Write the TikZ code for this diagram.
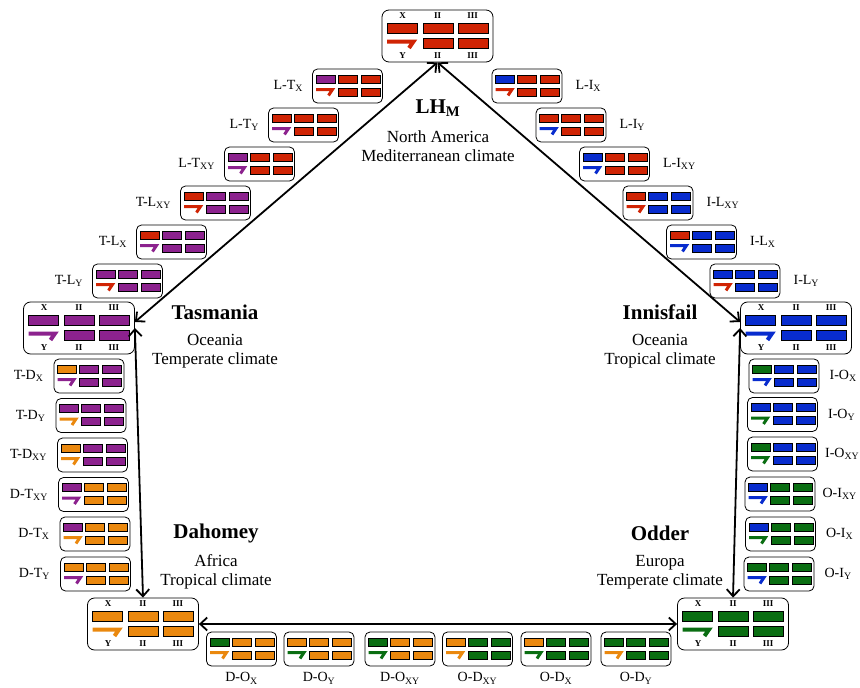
\documentclass[tikz,border=0pt]{standalone}
\usepackage{fontspec}
\setmainfont{Liberation Serif}
\usetikzlibrary{arrows.meta}
\usetikzlibrary{positioning}

\definecolor{kred}{RGB}{208,36,4}
\definecolor{kpurple}{RGB}{140,34,142}
\definecolor{kblue}{RGB}{8,44,206}
\definecolor{korange}{RGB}{234,136,14}
\definecolor{kgreen}{RGB}{10,110,18}

\tikzset{
  smallbox/.style={draw, rounded corners=5pt, line width=0.8pt, minimum width=70pt, minimum height=34pt, inner sep=0pt},
  bigbox/.style={draw, rounded corners=7pt, line width=0.8pt, minimum width=111pt, minimum height=52pt, inner sep=0pt},
  chrom/.style={draw=black, line width=0.6pt},
  ychrom/.style={line width=3pt},
  bigy/.style={line width=4pt},
  arm/.style={font=\fontsize{9}{9}\selectfont\bfseries, inner sep=0pt},
  lab/.style={font=\fontsize{14}{16}\selectfont, inner sep=0pt},
  strainname/.style={font=\fontsize{21}{24}\selectfont\bfseries},
  region/.style={font=\fontsize{17}{19}\selectfont, align=center},
  hybrid/.style={line width=1.8pt, {Straight Barb[length=7pt,width=13pt]}-{Straight Barb[length=7pt,width=13pt]}}
}

% name, centre, X colour, autosome colour, Y colour, label side, label
\newcommand{\kpair}[7]{%
  \node[smallbox] (#1) at (#2) {};
  \begin{scope}[shift={(#2)}]
    \draw[chrom, fill=#3] (-31.5,-11) rectangle ++(19,8);
    \foreach \xx in {-9.5,13.5} {
      \draw[chrom, fill=#4] (\xx,-11) rectangle ++(19,8);
      \draw[chrom, fill=#4] (\xx,2) rectangle ++(19,8);
    }
    \draw[ychrom, draw=#5] (-31.5,3.5) -- (-15,3.5) -- (-19,9.5);
  \end{scope}
  \node[lab, #6 of #1] (#1l) {#7};}

% name, centre, colour
\newcommand{\kstrain}[3]{%
  \node[bigbox] (#1) at (#2) {};
  \begin{scope}[shift={(#2)}]
    \foreach \xx in {-50.5,-14.5,20.5}
      \draw[chrom, fill=#3] (\xx,-13) rectangle ++(30,10);
    \foreach \xx in {-14.5,20.5}
      \draw[chrom, fill=#3] (\xx,2) rectangle ++(30,10);
    \draw[bigy, draw=#3] (-50.5,5.5) -- (-24,5.5) -- (-28.5,12);
    \node[arm] (#1x) at (-35,-20) {X};
    \node[arm] (#1a) at (0,-20) {II};
    \node[arm] (#1b) at (35,-20) {III};
    \node[arm] (#1y) at (-35,19.5) {Y};
    \node[arm] (#1c) at (0,19.5) {II};
    \node[arm] (#1d) at (35,19.5) {III};
  \end{scope}}

\begin{document}
\begin{tikzpicture}[x=1pt, y=-1pt]
    \useasboundingbox (0,0) rectangle (860,688);

    \kstrain{lh}{437.5,36}{kred}
    \kstrain{tas}{79,328}{kpurple}
    \kstrain{inn}{796,328}{kblue}
    \kstrain{dah}{143,624}{korange}
    \kstrain{odd}{733,624}{kgreen}

    \node[strainname] (lhname) at (438,108) {LH\textsubscript{M}};
    \node[region] (lhplace) at (438,146) {North America\\Mediterranean climate};
    \node[strainname] (tasname) at (215,312) {Tasmania};
    \node[region] (tasplace) at (215,351) {Oceania\\Temperate climate};
    \node[strainname] (innname) at (660,312) {Innisfail};
    \node[region] (innplace) at (660,351) {Oceania\\Tropical climate};
    \node[strainname] (dahname) at (216,533) {Dahomey};
    \node[region] (dahplace) at (216,572) {Africa\\Tropical climate};
    \node[strainname] (oddname) at (660,533) {Odder};
    \node[region] (oddplace) at (660,572) {Europa\\Temperate climate};

    \draw[hybrid] (lh.south) -- ([yshift=6pt]tas.east);
    \draw[hybrid] (lh.south) -- ([yshift=6pt]inn.west);
    \draw[hybrid] (tas.east) -- (dah.north);
    \draw[hybrid] (inn.west) -- (odd.north);
    \draw[hybrid] (dah.east) -- (odd.west);

    \kpair{ltx}{347.5,86}{kpurple}{kred}{kred}{left=9pt}{L-T\textsubscript{X}}
    \kpair{lty}{303.5,125}{kred}{kred}{kpurple}{left=9pt}{L-T\textsubscript{Y}}
    \kpair{ltxy}{259.5,164}{kpurple}{kred}{kpurple}{left=9pt}{L-T\textsubscript{XY}}
    \kpair{tlxy}{215.5,203}{kred}{kpurple}{kred}{left=9pt}{T-L\textsubscript{XY}}
    \kpair{tlx}{171.5,242}{kred}{kpurple}{kpurple}{left=9pt}{T-L\textsubscript{X}}
    \kpair{tly}{127.5,281}{kpurple}{kpurple}{kred}{left=9pt}{T-L\textsubscript{Y}}

    \kpair{lix}{527,86}{kblue}{kred}{kred}{right=13pt}{L-I\textsubscript{X}}
    \kpair{liy}{571,125}{kred}{kred}{kblue}{right=13pt}{L-I\textsubscript{Y}}
    \kpair{lixy}{614.5,164}{kblue}{kred}{kblue}{right=13pt}{L-I\textsubscript{XY}}
    \kpair{ilxy}{658,203}{kred}{kblue}{kred}{right=13pt}{I-L\textsubscript{XY}}
    \kpair{ilx}{701.5,242}{kred}{kblue}{kblue}{right=13pt}{I-L\textsubscript{X}}
    \kpair{ily}{745,281}{kblue}{kblue}{kred}{right=13pt}{I-L\textsubscript{Y}}

    \kpair{tdx}{89,376}{korange}{kpurple}{kpurple}{left=10pt}{T-D\textsubscript{X}}
    \kpair{tdy}{91,415.5}{kpurple}{kpurple}{korange}{left=10pt}{T-D\textsubscript{Y}}
    \kpair{tdxy}{92.5,455}{korange}{kpurple}{korange}{left=10pt}{T-D\textsubscript{XY}}
    \kpair{dtxy}{93.5,494.5}{kpurple}{korange}{kpurple}{left=10pt}{D-T\textsubscript{XY}}
    \kpair{dtx}{95,534}{kpurple}{korange}{korange}{left=10pt}{D-T\textsubscript{X}}
    \kpair{dty}{95.5,574}{korange}{korange}{kpurple}{left=10pt}{D-T\textsubscript{Y}}

    \kpair{iox}{784,376}{kgreen}{kblue}{kblue}{right=10pt}{I-O\textsubscript{X}}
    \kpair{ioy}{782.5,414.5}{kblue}{kblue}{kgreen}{right=10pt}{I-O\textsubscript{Y}}
    \kpair{ioxy}{782.5,454}{kgreen}{kblue}{kgreen}{right=7pt}{I-O\textsubscript{XY}}
    \kpair{oixy}{780,494}{kblue}{kgreen}{kblue}{right=7pt}{O-I\textsubscript{XY}}
    \kpair{oix}{780.5,534}{kblue}{kgreen}{kgreen}{right=10pt}{O-I\textsubscript{X}}
    \kpair{oiy}{779,574}{kgreen}{kgreen}{kblue}{right=10pt}{O-I\textsubscript{Y}}

    \kpair{dox}{241.5,649}{kgreen}{korange}{korange}{below=6pt}{D-O\textsubscript{X}}
    \kpair{doy}{319,649}{korange}{korange}{kgreen}{below=6pt}{D-O\textsubscript{Y}}
    \kpair{doxy}{400,649}{kgreen}{korange}{kgreen}{below=6pt}{D-O\textsubscript{XY}}
    \kpair{odxy}{477.5,649}{korange}{kgreen}{korange}{below=6pt}{O-D\textsubscript{XY}}
    \kpair{odx}{556,649}{korange}{kgreen}{kgreen}{below=6pt}{O-D\textsubscript{X}}
    \kpair{ody}{636,649}{kgreen}{kgreen}{korange}{below=6pt}{O-D\textsubscript{Y}}
\end{tikzpicture}
\end{document}
